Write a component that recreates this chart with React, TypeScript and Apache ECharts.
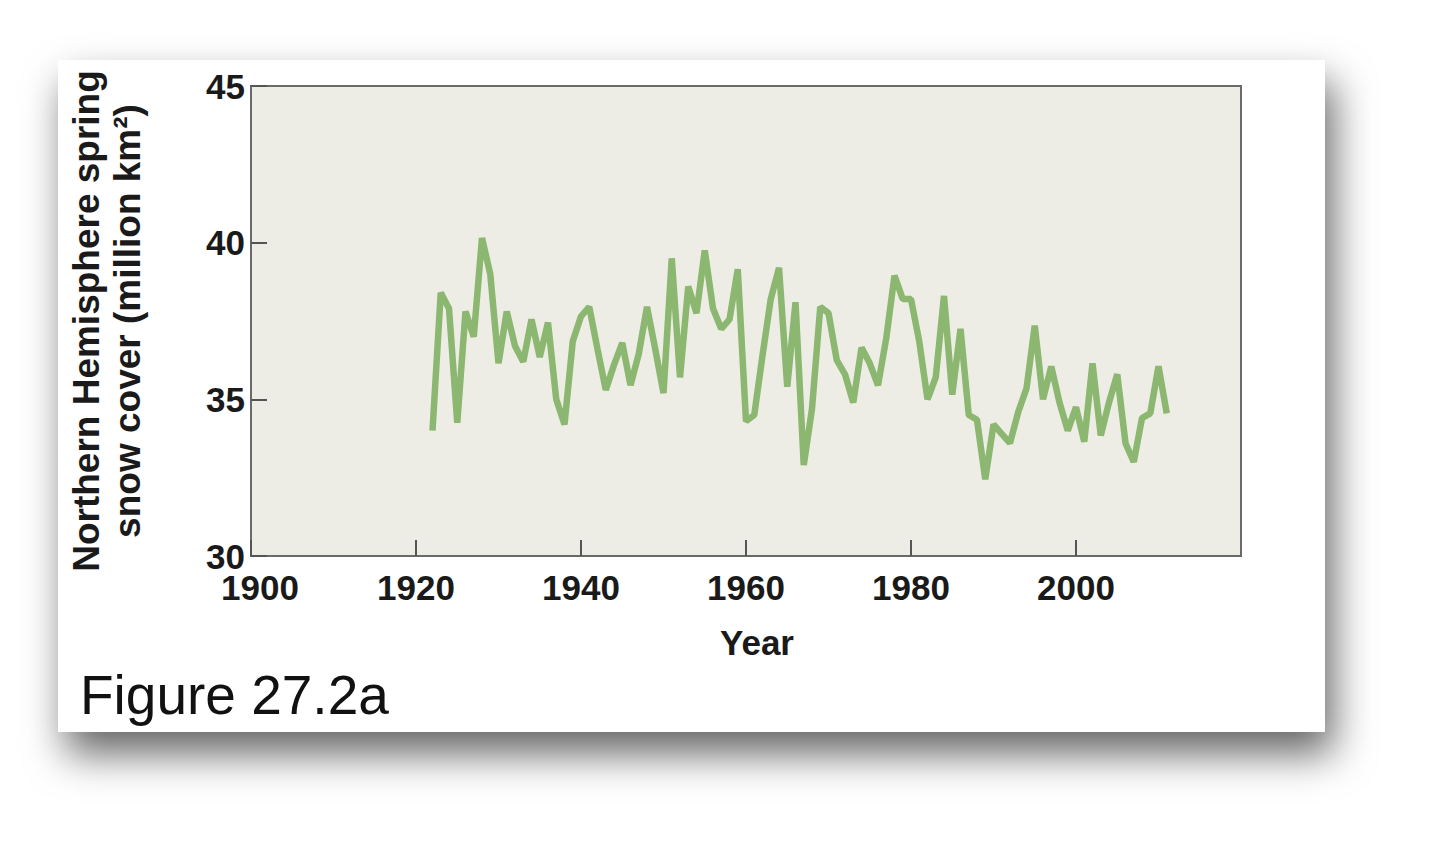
import React, { useEffect, useRef } from "react";
import * as echarts from "echarts";

// Year of each observation (spring snow-cover record)
const years = [
  1922, 1923, 1924, 1925, 1926, 1927, 1928, 1929, 1930, 1931,
  1932, 1933, 1934, 1935, 1936, 1937, 1938, 1939, 1940, 1941,
  1942, 1943, 1944, 1945, 1946, 1947, 1948, 1949, 1950, 1951,
  1952, 1953, 1954, 1955, 1956, 1957, 1958, 1959, 1960, 1961,
  1962, 1963, 1964, 1965, 1966, 1967, 1968, 1969, 1970, 1971,
  1972, 1973, 1974, 1975, 1976, 1977, 1978, 1979, 1980, 1981,
  1982, 1983, 1984, 1985, 1986, 1987, 1988, 1989, 1990, 1991,
  1992, 1993, 1994, 1995, 1996, 1997, 1998, 1999, 2000, 2001,
  2002, 2003, 2004, 2005, 2006, 2007, 2008, 2009, 2010, 2011,
];

// Northern Hemisphere spring snow cover (million km²)
const snowCover = [
  34.0, 38.4, 37.9, 34.25, 37.8, 37.0, 40.15, 39.0, 36.15, 37.8,
  36.7, 36.2, 37.55, 36.35, 37.45, 35.0, 34.2, 36.85, 37.65, 37.95,
  36.6, 35.3, 36.1, 36.8, 35.45, 36.45, 37.95, 36.6, 35.2, 39.5,
  35.7, 38.6, 37.75, 39.75, 37.9, 37.25, 37.55, 39.15, 34.3, 34.5,
  36.4, 38.2, 39.2, 35.4, 38.1, 32.9, 34.7, 37.95, 37.75, 36.25,
  35.8, 34.9, 36.65, 36.15, 35.45, 36.95, 38.95, 38.2, 38.2, 36.85,
  35.0, 35.7, 38.3, 35.15, 37.25, 34.5, 34.35, 32.45, 34.2, 33.9,
  33.6, 34.6, 35.35, 37.35, 35.0, 36.05, 34.9, 34.0, 34.75, 33.65,
  36.15, 33.85, 34.9, 35.8, 33.6, 33.0, 34.4, 34.55, 36.05, 34.55,
];

const xAxisTitle = "Year";
const yAxisTitle = "Northern Hemisphere spring\nsnow cover (million km²)";
const figureLabel = "Figure 27.2a";

const FONT = "'Liberation Sans', Arial, Helvetica, sans-serif";

export default function App() {
  const ref = useRef<HTMLDivElement>(null);

  useEffect(() => {
    document.body.style.margin = "0";
    if (!ref.current) return;
    const chart = echarts.init(ref.current, undefined, { renderer: "svg" });
    const data = years.map((y, i) => [y, snowCover[i]]);

    const labelStyle = {
      fontSize: 35,
      fontWeight: "bold",
      fontFamily: FONT,
      color: "#1a1a1a",
    };

    chart.setOption({
      animation: false,
      backgroundColor: "#ffffff",
      graphic: [
        {
          type: "rect",
          z: -10,
          silent: true,
          shape: { x: 58, y: 60, width: 1267, height: 672 },
          style: {
            fill: "#ffffff",
            shadowBlur: 40,
            shadowColor: "rgba(0,0,0,0.6)",
            shadowOffsetX: 8,
            shadowOffsetY: 22,
          },
        },
        {
          type: "text",
          z: 10,
          left: 80,
          top: 667,
          style: {
            text: figureLabel,
            fontSize: 55,
            fontFamily: FONT,
            fill: "#111111",
          },
        },
      ],
      grid: {
        left: 251,
        top: 86,
        width: 990,
        height: 470,
        show: true,
        backgroundColor: "#EEEDE5",
        borderColor: "#6a6a6a",
        borderWidth: 2,
      },
      xAxis: {
        type: "value",
        min: 1900,
        max: 2020,
        interval: 20,
        name: xAxisTitle,
        nameLocation: "middle",
        nameGap: 69,
        nameTextStyle: {
          ...labelStyle,
          padding: [0, 0, 0, 22],
        },
        axisLine: { show: true, lineStyle: { color: "#6a6a6a", width: 2 } },
        axisTick: {
          show: true,
          inside: true,
          length: 16,
          lineStyle: { color: "#555555", width: 2 },
        },
        splitLine: { show: false },
        axisLabel: {
          ...labelStyle,
          showMaxLabel: false,
          margin: 19,
          lineHeight: 24,
          formatter: (v: number) => (v === 1900 ? "{first|1900}" : String(v)),
          rich: {
            first: {
              ...labelStyle,
              lineHeight: 24,
              padding: [0, 0, 0, 18],
            },
          },
        },
      },
      yAxis: {
        type: "value",
        min: 30,
        max: 45,
        interval: 5,
        name: yAxisTitle,
        nameLocation: "middle",
        nameRotate: 90,
        nameGap: 103,
        nameTextStyle: {
          ...labelStyle,
          fontSize: 37,
          lineHeight: 41,
          align: "center",
        },
        axisLine: { show: true, lineStyle: { color: "#6a6a6a", width: 2 } },
        axisTick: {
          show: true,
          inside: true,
          length: 16,
          lineStyle: { color: "#555555", width: 2 },
        },
        splitLine: { show: false },
        axisLabel: {
          ...labelStyle,
          margin: 6,
          lineHeight: 22,
        },
      },
      series: [
        {
          type: "line",
          data,
          symbol: "none",
          lineStyle: { color: "#8BB770", width: 6.5 },
        },
      ],
    });

    return () => chart.dispose();
  }, []);

  return <div ref={ref} style={{ width: 1440, height: 849 }} />;
}
